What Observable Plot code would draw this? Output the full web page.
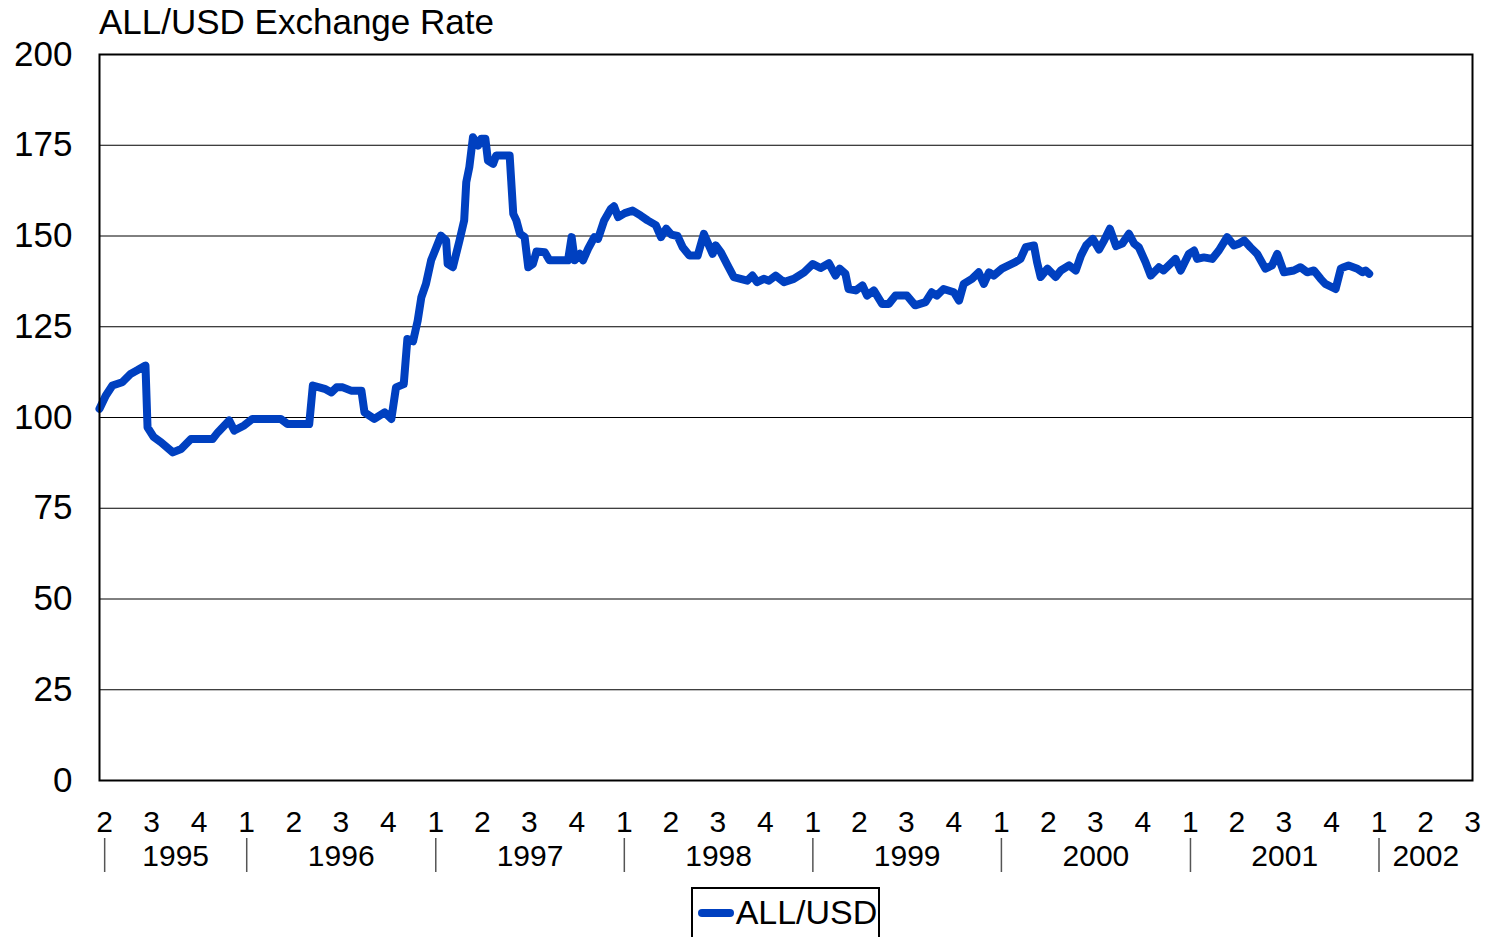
<!DOCTYPE html>
<html>
<head>
<meta charset="utf-8">
<script src="https://cdn.jsdelivr.net/npm/d3@7"></script>
<script src="https://cdn.jsdelivr.net/npm/@observablehq/plot@0.6"></script>
<style>
  html, body { margin: 0; padding: 0; background: #fff; }
  body { font-family: "Liberation Sans", Arial, sans-serif; color: #000; width: 1488px; height: 937px; overflow: hidden; }
  #title { height: 38px; font-size: 35px; line-height: 38px; padding-left: 99px; white-space: nowrap; position: relative; top: 3px; }
  #legendWrap { width: 1373px; margin-left: 99px; display: flex; justify-content: center; margin-top: 3px; }
  #legend { border: 2px solid #000; font-size: 34px; line-height: 46px; padding: 0 1px 20px 5px; white-space: nowrap; }
  #legend .sw { display: inline-block; width: 36px; height: 8px; border-radius: 4px; background: #0040C0; vertical-align: middle; margin-right: 2px; position: relative; top: -2px; }
</style>
</head>
<body>
<div id="title">ALL/USD Exchange Rate</div>
<div id="chart"></div>
<div id="legendWrap"><div id="legend"><span class="sw"></span>ALL/USD</div></div>
<script>
// ---- Data ----
const dates = [
  "1995-03-22","1995-04-03","1995-04-16","1995-05-05","1995-05-21","1995-06-03","1995-06-19","1995-06-23",
  "1995-07-05","1995-07-19","1995-08-11","1995-08-27","1995-09-15","1995-10-27","1995-11-06","1995-11-28",
  "1995-12-08","1995-12-27","1996-01-12","1996-03-07","1996-03-20","1996-05-01","1996-05-08","1996-05-31",
  "1996-06-13","1996-06-23","1996-07-05","1996-07-21","1996-08-10","1996-08-16","1996-09-04","1996-09-24",
  "1996-10-07","1996-10-16","1996-10-31","1996-11-07","1996-11-18","1996-11-27","1996-12-04","1996-12-13",
  "1996-12-23","1997-01-01","1997-01-11","1997-01-21","1997-01-24","1997-02-03","1997-02-16","1997-02-25",
  "1997-03-01","1997-03-07","1997-03-14","1997-03-24","1997-03-30","1997-04-07","1997-04-12","1997-04-22",
  "1997-04-28","1997-05-24","1997-05-31","1997-06-06","1997-06-13","1997-06-22","1997-06-29","1997-07-08",
  "1997-07-15","1997-07-31","1997-08-09","1997-09-14","1997-09-21","1997-09-27","1997-10-07","1997-10-13",
  "1997-10-23","1997-11-04","1997-11-11","1997-11-23","1997-12-06","1997-12-12","1997-12-20","1998-01-02",
  "1998-01-17","1998-02-02","1998-02-15","1998-03-03","1998-03-13","1998-03-23","1998-04-02","1998-04-14",
  "1998-04-24","1998-05-07","1998-05-23","1998-06-04","1998-06-21","1998-06-27","1998-07-07","1998-07-20",
  "1998-08-01","1998-08-14","1998-08-27","1998-09-06","1998-09-15","1998-09-28","1998-10-08","1998-10-21",
  "1998-11-06","1998-11-25","1998-12-15","1999-01-01","1999-01-16","1999-02-01","1999-02-14","1999-02-22",
  "1999-03-05","1999-03-11","1999-03-25","1999-04-07","1999-04-16","1999-04-29","1999-05-15","1999-05-28",
  "1999-06-10","1999-07-02","1999-07-18","1999-08-07","1999-08-19","1999-08-29","1999-09-11","1999-10-01",
  "1999-10-11","1999-10-20","1999-11-05","1999-11-18","1999-11-28","1999-12-08","1999-12-17","2000-01-02",
  "2000-01-21","2000-01-28","2000-02-07","2000-02-17","2000-03-04","2000-03-10","2000-03-17","2000-03-30",
  "2000-04-15","2000-04-25","2000-05-11","2000-05-24","2000-06-03","2000-06-13","2000-06-26","2000-07-08",
  "2000-07-18","2000-07-29","2000-08-10","2000-08-22","2000-09-04","2000-09-14","2000-09-23","2000-10-06",
  "2000-10-16","2000-11-01","2000-11-10","2000-12-03","2000-12-13","2000-12-29","2001-01-08","2001-01-14",
  "2001-01-27","2001-02-12","2001-02-25","2001-03-13","2001-03-26","2001-04-05","2001-04-15","2001-04-27",
  "2001-05-10","2001-05-26","2001-06-08","2001-06-18","2001-07-01","2001-07-20","2001-08-02","2001-08-15",
  "2001-08-28","2001-09-10","2001-09-19","2001-10-09","2001-10-19","2001-10-25","2001-11-03","2001-11-20",
  "2001-11-30","2001-12-06","2001-12-13"
];
const rates = [
  102.4,106.0,108.8,109.7,112.0,113.0,114.3,97.3,
  94.6,93.2,90.4,91.3,94.1,94.1,95.9,99.2,
  96.4,97.8,99.6,99.6,98.2,98.2,108.8,107.9,
  106.9,108.3,108.3,107.4,107.4,101.4,99.6,101.4,
  99.6,108.3,109.2,121.6,121.0,126.7,133.1,136.8,
  143.3,146.5,150.1,148.8,142.3,141.4,148.8,154.3,
  164.8,169.0,177.2,174.9,176.8,176.8,170.8,169.9,
  172.2,172.2,156.1,154.3,150.6,149.7,141.4,142.3,
  145.7,145.5,143.3,143.3,149.7,143.3,145.1,143.3,
  146.5,149.7,149.2,154.3,157.5,158.2,155.2,156.3,
  157.0,155.6,154.3,153.0,149.7,152.0,150.4,150.0,
  146.9,144.6,144.6,150.6,145.1,147.4,145.5,141.9,
  138.7,138.2,137.7,139.1,137.3,138.2,137.7,139.1,
  137.3,138.2,140.0,142.3,141.2,142.5,139.1,141.0,
  139.6,135.4,135.0,136.4,133.6,135.0,131.3,131.3,
  133.6,133.6,130.9,131.8,134.5,133.6,135.4,134.5,
  132.2,136.8,138.2,140.0,136.8,140.0,139.1,141.0,
  142.3,142.8,143.7,146.9,147.4,142.8,138.7,141.0,
  138.7,140.5,141.9,140.5,144.6,147.4,149.2,146.3,
  148.8,152.0,147.2,147.9,150.6,147.9,146.9,142.8,
  139.1,141.4,140.5,143.7,140.5,145.1,146.0,143.7,
  144.1,143.7,146.0,149.7,147.4,147.9,148.8,146.9,
  145.1,141.0,141.9,145.1,140.0,140.5,141.4,140.0,
  140.5,138.2,136.8,135.4,141.0,141.4,141.9,141.0,
  140.0,140.5,139.6
];
const yTicks = [0, 25, 50, 75, 100, 125, 150, 175, 200];
const quarterDates = [
  "1995-04-01","1995-07-01","1995-10-01",
  "1996-01-01","1996-04-01","1996-07-01","1996-10-01",
  "1997-01-01","1997-04-01","1997-07-01","1997-10-01",
  "1998-01-01","1998-04-01","1998-07-01","1998-10-01",
  "1999-01-01","1999-04-01","1999-07-01","1999-10-01",
  "2000-01-01","2000-04-01","2000-07-01","2000-10-01",
  "2001-01-01","2001-04-01","2001-07-01","2001-10-01",
  "2002-01-01","2002-04-01","2002-07-01"
];
const quarterLabels = [
  "2","3","4",
  "1","2","3","4",
  "1","2","3","4",
  "1","2","3","4",
  "1","2","3","4",
  "1","2","3","4",
  "1","2","3","4",
  "1","2","3"
];
const yearLabels = ["1995","1996","1997","1998","1999","2000","2001","2002"];
const yearStarts = ["1995-04-01","1996-01-01","1997-01-01","1998-01-01","1999-01-01","2000-01-01","2001-01-01","2002-01-01"];
const axisEnd = "2002-07-01";

// ---- Build ----
const parse = d3.utcParse("%Y-%m-%d");
const data = dates.map((d, i) => ({date: parse(d), value: rates[i]}));
const qData = quarterDates.map((d, i) => ({date: parse(d), label: quarterLabels[i]}));
const ys = yearStarts.map(parse);
const end = parse(axisEnd);
const yearData = yearLabels.map((lab, i) => {
  const a = ys[i], b = i + 1 < ys.length ? ys[i + 1] : end;
  return {mid: new Date((+a + +b) / 2), label: lab};
});

const chart = Plot.plot({
  width: 1488,
  height: 846,
  marginTop: 16,
  marginLeft: 99,
  marginRight: 16,
  marginBottom: 104,
  style: {fontFamily: "'Liberation Sans', Arial, sans-serif", background: "white", color: "black", overflow: "visible"},
  x: {type: "utc", domain: [data[0].date, end], axis: null},
  y: {domain: [0, 200], axis: null},
  marks: [
    Plot.gridY(yTicks, {stroke: "black", strokeOpacity: 1, strokeWidth: 1}),
    Plot.axisY(yTicks, {tickSize: 0, tickPadding: 27, fontSize: 35, label: null, tickFormat: d => String(d)}),
    Plot.line(data, {x: "date", y: "value", stroke: "#0040C0", strokeWidth: 8, strokeLinejoin: "round", strokeLinecap: "round"}),
    Plot.frame({stroke: "black", strokeWidth: 2}),
    Plot.text(qData, {x: "date", text: "label", frameAnchor: "bottom", lineAnchor: "top", dy: 30, fontSize: 30, fill: "black"}),
    Plot.text(yearData, {x: "mid", text: "label", frameAnchor: "bottom", lineAnchor: "top", dy: 64, fontSize: 30, fill: "black"}),
    Plot.tickX(ys, {x: d => d, insetTop: 784, insetBottom: -92, stroke: "#555", strokeWidth: 1.5})
  ]
});
document.getElementById("chart").appendChild(chart);
</script>
</body>
</html>
